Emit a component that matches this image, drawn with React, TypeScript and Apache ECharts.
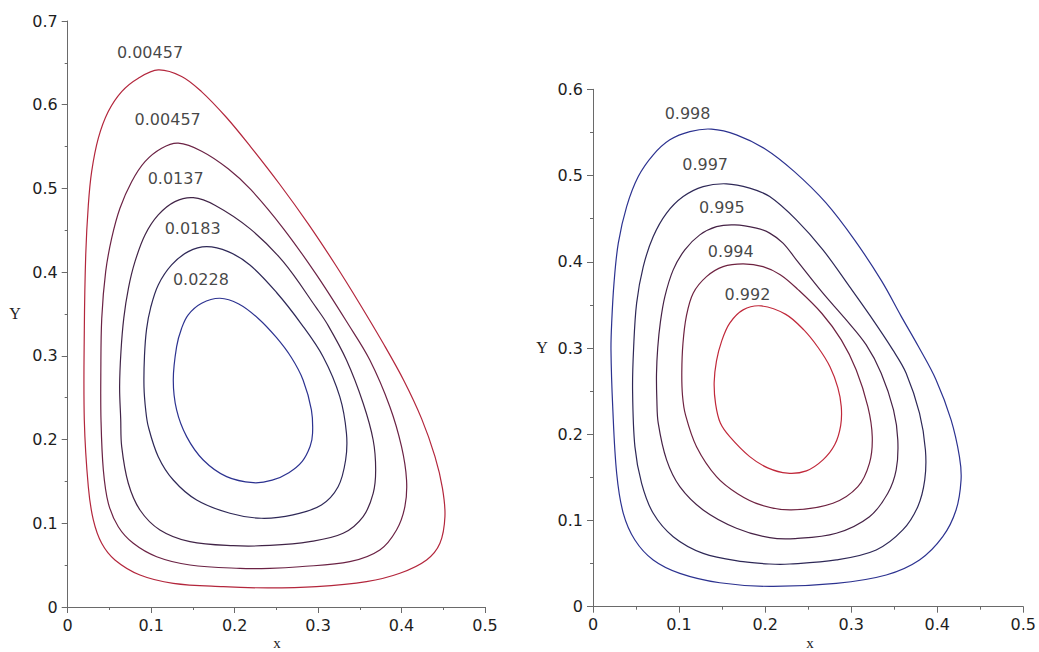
import React, { useEffect, useRef } from "react";
import * as echarts from "echarts";

// ---- Left panel: contour levels (outer -> inner) ----
const leftLevels = ["0.00457", "0.00457", "0.0137", "0.0183", "0.0228"];
const leftLabelX = [0.0986, 0.1198, 0.1293, 0.1497, 0.1596];
const leftLabelY = [0.662, 0.5827, 0.5122, 0.4524, 0.3915];

// each contour is a closed loop of [x, y] points
const leftC1 = [
  [0.1085, 0.6416], [0.0846, 0.6317], [0.0647, 0.6157], [0.0486, 0.5918], [0.0367, 0.56],
  [0.0287, 0.52], [0.0247, 0.48], [0.0216, 0.4205], [0.0199, 0.33], [0.0199, 0.2234],
  [0.0247, 0.1437], [0.0307, 0.104], [0.0407, 0.0761], [0.0566, 0.0562], [0.0866, 0.0382],
  [0.1265, 0.0283], [0.1864, 0.0243], [0.24, 0.0228], [0.298, 0.0243], [0.358, 0.0303],
  [0.398, 0.0403], [0.43, 0.0562], [0.446, 0.0761], [0.452, 0.108], [0.449, 0.142],
  [0.44, 0.18], [0.424, 0.225], [0.403, 0.27], [0.378, 0.315], [0.35, 0.362],
  [0.32, 0.41], [0.288, 0.458], [0.254, 0.505], [0.219, 0.55], [0.19, 0.585],
  [0.16, 0.616], [0.1365, 0.6338],
];
const leftC2 = [
  [0.1325, 0.554], [0.1126, 0.548], [0.0926, 0.532], [0.0766, 0.508], [0.0626, 0.4763],
  [0.0527, 0.4405], [0.0455, 0.4006], [0.0408, 0.345], [0.0397, 0.28], [0.0399, 0.2234],
  [0.0427, 0.1637], [0.0487, 0.1239], [0.0606, 0.0959], [0.0786, 0.0761], [0.1066, 0.0601],
  [0.1465, 0.0502], [0.2063, 0.0462], [0.2423, 0.0462], [0.278, 0.0481], [0.338, 0.0541],
  [0.374, 0.0681], [0.394, 0.092], [0.404, 0.1198], [0.406, 0.1517], [0.4, 0.1915],
  [0.386, 0.2393], [0.362, 0.295], [0.336, 0.338], [0.2982, 0.3967], [0.2582, 0.4524],
  [0.2195, 0.4985], [0.1923, 0.5235], [0.1605, 0.5445],
];
const leftC3 = [
  [0.1504, 0.489], [0.1285, 0.4842], [0.1085, 0.4683], [0.0926, 0.4444], [0.0806, 0.4125],
  [0.0728, 0.381], [0.0672, 0.345], [0.0638, 0.305], [0.0622, 0.263], [0.0635, 0.225],
  [0.0647, 0.1915], [0.0726, 0.1478], [0.0866, 0.1159], [0.1105, 0.092], [0.1465, 0.078],
  [0.1983, 0.0732], [0.2423, 0.0735], [0.29, 0.078], [0.33, 0.088], [0.354, 0.108],
  [0.366, 0.1358], [0.369, 0.1637], [0.366, 0.1995], [0.354, 0.2434], [0.334, 0.295],
  [0.311, 0.338], [0.2982, 0.357], [0.2582, 0.4125], [0.2183, 0.452], [0.1764, 0.48],
];
const leftC4 = [
  [0.1665, 0.4305], [0.1444, 0.4245], [0.1245, 0.4086], [0.1085, 0.3847], [0.0995, 0.358],
  [0.0945, 0.332], [0.092, 0.3], [0.0914, 0.2632], [0.0935, 0.235], [0.0966, 0.2154],
  [0.1085, 0.1796], [0.1265, 0.1517], [0.1545, 0.1278], [0.1944, 0.112], [0.232, 0.106],
  [0.27, 0.11], [0.304, 0.1219], [0.324, 0.1437], [0.333, 0.1756], [0.334, 0.2075],
  [0.326, 0.2513], [0.306, 0.299], [0.28, 0.338], [0.25, 0.376], [0.2183, 0.4086],
  [0.1923, 0.4245],
];
const leftC5 = [
  [0.1824, 0.3688], [0.1605, 0.3628], [0.1444, 0.349], [0.1365, 0.333], [0.1305, 0.311],
  [0.1265, 0.2712], [0.1305, 0.2354], [0.1425, 0.2035], [0.1624, 0.1756], [0.1904, 0.1557],
  [0.2223, 0.1485], [0.245, 0.1515], [0.265, 0.1605], [0.281, 0.174], [0.2905, 0.192],
  [0.2934, 0.2075], [0.292, 0.2354], [0.282, 0.2712], [0.268, 0.298], [0.25, 0.322],
  [0.228, 0.345], [0.205, 0.362],
];

// ---- Right panel ----
const rightLevels = ["0.998", "0.997", "0.995", "0.994", "0.992"];
const rightLabelX = [0.1099, 0.1303, 0.1497, 0.1601, 0.1795];
const rightLabelY = [0.5724, 0.5124, 0.4629, 0.4118, 0.3616];

const rightC1 = [
  [0.1377, 0.5538], [0.1125, 0.551], [0.0893, 0.5414], [0.07, 0.524], [0.0526, 0.4988],
  [0.0391, 0.464], [0.0294, 0.4216], [0.0244, 0.3752], [0.0217, 0.3288], [0.0209, 0.2978],
  [0.0229, 0.232], [0.0275, 0.1548], [0.0352, 0.1083], [0.0487, 0.0774], [0.07, 0.0542],
  [0.1009, 0.0387], [0.1473, 0.0278], [0.2053, 0.0236], [0.2827, 0.0271], [0.3407, 0.0368],
  [0.3794, 0.0542], [0.4064, 0.0812], [0.4219, 0.1122], [0.4277, 0.147], [0.4258, 0.174],
  [0.4161, 0.2166], [0.3987, 0.263], [0.378, 0.302], [0.358, 0.337], [0.3355, 0.3775],
  [0.3045, 0.4245], [0.2705, 0.4685], [0.234, 0.5045], [0.2005, 0.5305], [0.1667, 0.5472],
];
const rightC2 = [
  [0.1551, 0.4904], [0.128, 0.4872], [0.1048, 0.4756], [0.0855, 0.4564], [0.07, 0.4292],
  [0.0584, 0.3944], [0.0507, 0.352], [0.0472, 0.3], [0.046, 0.2514], [0.0487, 0.1856],
  [0.0565, 0.1431], [0.07, 0.1083], [0.0932, 0.0812], [0.128, 0.0619], [0.1744, 0.0522],
  [0.2053, 0.0495], [0.2285, 0.0495], [0.2827, 0.0542], [0.3291, 0.0658], [0.36, 0.089],
  [0.3774, 0.116], [0.3855, 0.147], [0.3863, 0.1818], [0.3794, 0.2244], [0.3639, 0.2708],
  [0.3484, 0.2978], [0.323, 0.336], [0.2981, 0.3712], [0.2672, 0.4138], [0.2363, 0.4486],
  [0.2053, 0.4756], [0.1821, 0.4854],
];
const rightC3 = [
  [0.1647, 0.4428], [0.1435, 0.4408], [0.1241, 0.4312], [0.1067, 0.4138], [0.0932, 0.3906],
  [0.0835, 0.3596], [0.0783, 0.33], [0.0752, 0.3], [0.0738, 0.27], [0.0742, 0.24],
  [0.0758, 0.2128], [0.0855, 0.1702], [0.1009, 0.1392], [0.128, 0.1122], [0.1667, 0.091],
  [0.2053, 0.08], [0.235, 0.079], [0.2827, 0.0852], [0.3213, 0.1044], [0.3426, 0.1316],
  [0.3523, 0.1586], [0.3542, 0.1934], [0.3492, 0.2282], [0.3349, 0.2708], [0.3175, 0.3036],
  [0.293, 0.334], [0.2672, 0.3636], [0.2363, 0.4022], [0.2208, 0.4216], [0.2053, 0.4332],
  [0.1899, 0.439],
];
const rightC4 = [
  [0.1744, 0.3976], [0.1512, 0.3944], [0.1319, 0.3828], [0.1164, 0.3636], [0.1085, 0.337],
  [0.1045, 0.305], [0.1032, 0.272], [0.104, 0.245], [0.1075, 0.2224], [0.1203, 0.1856],
  [0.1435, 0.1508], [0.168, 0.131], [0.195, 0.118], [0.2305, 0.1122], [0.2788, 0.12],
  [0.3078, 0.1392], [0.3213, 0.1664], [0.3245, 0.1972], [0.3194, 0.232], [0.3059, 0.2746],
  [0.2885, 0.3094], [0.266, 0.34], [0.238, 0.368], [0.2176, 0.385], [0.1976, 0.3944],
];
const rightC5 = [
  [0.1957, 0.3488], [0.1744, 0.3442], [0.1589, 0.3288], [0.1495, 0.308], [0.1435, 0.285],
  [0.1408, 0.26], [0.1425, 0.235], [0.148, 0.213], [0.1589, 0.1972], [0.1821, 0.174],
  [0.203, 0.161], [0.226, 0.1548], [0.248, 0.1575], [0.2672, 0.1702], [0.281, 0.188],
  [0.2878, 0.21], [0.2885, 0.232], [0.2845, 0.254], [0.2755, 0.278], [0.262, 0.3],
  [0.245, 0.321], [0.224, 0.339],
];

const leftCurves = [leftC1, leftC2, leftC3, leftC4, leftC5];
const rightCurves = [rightC1, rightC2, rightC3, rightC4, rightC5];
const leftColors = ["#b3263c", "#6b2244", "#412447", "#2e2857", "#2c3290"];
const rightColors = ["#2c3290", "#2e2857", "#462246", "#6e2240", "#c0283a"];

const tickFont = { fontFamily: "DejaVu Sans", fontSize: 16, color: "#1e1e1e" };

function axisCommon(max: number) {
  return {
    type: "value" as const,
    min: 0,
    max,
    interval: 0.1,
    splitLine: { show: false },
    axisLine: { show: true, onZero: false, lineStyle: { color: "#6a6a6a", width: 1 } },
    axisTick: { show: true, length: 6, lineStyle: { color: "#6a6a6a" } },
    minorTick: { show: true, splitNumber: 2, length: 3, lineStyle: { color: "#6a6a6a" } },
    minorSplitLine: { show: false },
    axisLabel: { ...tickFont, margin: 10 },
  };
}

function contourSeries(curve: number[][], color: string, idx: number) {
  return {
    type: "custom",
    xAxisIndex: idx,
    yAxisIndex: idx,
    silent: true,
    data: curve,
    encode: { x: 0, y: 1 },
    renderItem: (params: any, api: any) => {
      if (params.dataIndex !== 0) return null;
      const pts = curve.map((p) => api.coord(p));
      return {
        type: "polygon",
        shape: { points: pts, smooth: 0.35 },
        style: { fill: "none", stroke: color, lineWidth: 1.2 },
      };
    },
  };
}

export default function App() {
  const ref = useRef<HTMLDivElement>(null);
  useEffect(() => {
    if (!ref.current) return;
    const chart = echarts.init(ref.current, undefined, { renderer: "svg" });
    const series: any[] = [];
    leftCurves.forEach((c, i) => series.push(contourSeries(c, leftColors[i], 0)));
    rightCurves.forEach((c, i) => series.push(contourSeries(c, rightColors[i], 1)));
    const labelSeries = (levels: string[], xs: number[], ys: number[], idx: number) => ({
      type: "scatter", xAxisIndex: idx, yAxisIndex: idx, silent: true,
      symbolSize: 1, itemStyle: { color: "rgba(0,0,0,0)" },
      data: levels.map((t, i) => ({ name: t, value: [xs[i], ys[i]] })),
      label: {
        show: true, position: "inside", formatter: "{b}",
        fontFamily: "DejaVu Sans", fontSize: 16, color: "#151515",
      },
    });
    series.push(labelSeries(leftLevels, leftLabelX, leftLabelY, 0));
    series.push(labelSeries(rightLevels, rightLabelX, rightLabelY, 1));

    const nameStyle = { fontFamily: "Liberation Serif", fontSize: 16, fill: "#222", textAlign: "center", textVerticalAlign: "middle" };
    chart.setOption({
      animation: false,
      backgroundColor: "#ffffff",
      grid: [
        { left: 67.7, top: 21, width: 417.3, height: 586 },
        { left: 593, top: 89.3, width: 431, height: 517.4 },
      ],
      xAxis: [
        { ...axisCommon(0.5), gridIndex: 0 },
        { ...axisCommon(0.5), gridIndex: 1 },
      ],
      yAxis: [
        { ...axisCommon(0.7), gridIndex: 0 },
        { ...axisCommon(0.6), gridIndex: 1 },
      ],
      graphic: [
        { type: "text", x: 15, y: 313, style: { text: "Y", ...nameStyle } },
        { type: "text", x: 277, y: 643, style: { text: "x", ...nameStyle, fontSize: 15 } },
        { type: "text", x: 542, y: 347, style: { text: "Y", ...nameStyle } },
        { type: "text", x: 810, y: 643, style: { text: "x", ...nameStyle, fontSize: 15 } },
      ],
      series,
    });
    return () => chart.dispose();
  }, []);
  return (
    <div
      ref={ref}
      style={{ position: "absolute", left: 0, top: 0, width: 1039, height: 652, background: "#fff" }}
    />
  );
}
